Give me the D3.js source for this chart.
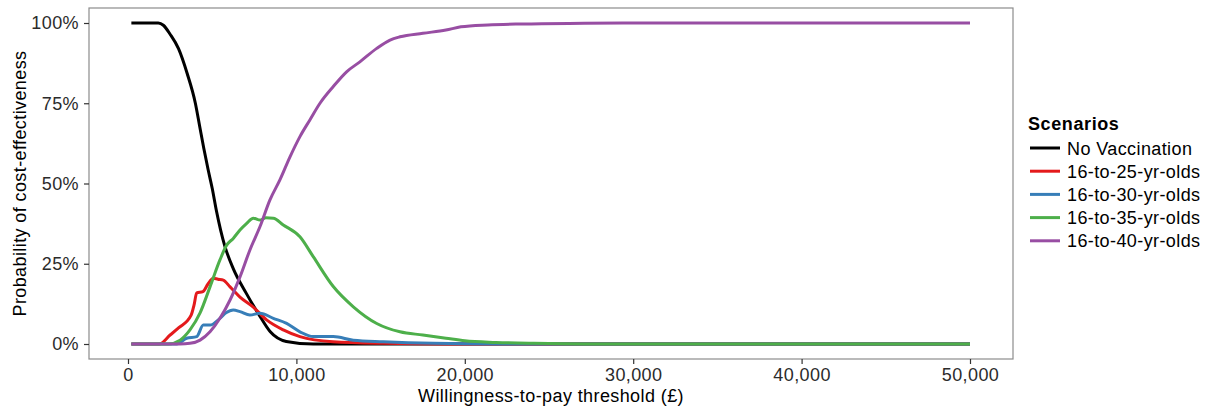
<!DOCTYPE html>
<html>
<head>
<meta charset="utf-8">
<script src="https://cdn.jsdelivr.net/npm/d3@7/dist/d3.min.js"></script>
<style>
  html, body { margin: 0; padding: 0; background: #fff; }
  svg { display: block; }
  text { font-family: "Liberation Sans", Arial, Helvetica, sans-serif; }
</style>
</head>
<body>
<svg id="chart" width="1215" height="411"></svg>
<script>
// Cost-effectiveness acceptability curves: [willingness-to-pay (£), probability (%)]
const noVaccination = [
  [200, 100], [1800, 100], [2100, 99.3], [2500, 96.5], [3000, 92.0], [3500, 84.5],
  [4000, 75.0], [4250, 68.0], [4500, 61.0], [4750, 54.5], [5000, 48.5], [5250, 41.5],
  [5500, 35.5], [5750, 30.5], [6250, 23.5], [7000, 16.0], [7850, 8.5], [8450, 3.8],
  [9400, 0.8], [11000, 0], [50000, 0]
];
const age16to25 = [
  [200, 0], [1850, 0], [2500, 2.8], [3000, 5.0], [3750, 9.0], [3920, 12.1], [4080, 15.9],
  [4450, 16.3], [4750, 18.7], [5060, 20.5], [5340, 20.2], [5660, 19.9], [6060, 17.8],
  [6650, 14.6], [7440, 11.5], [8230, 7.5], [9220, 4.4], [10210, 2.3], [12170, 0.7],
  [15140, 0.2], [19100, 0], [50000, 0]
];
const age16to30 = [
  [200, 0], [2890, 0], [3480, 1.8], [4080, 2.3], [4470, 5.9], [4870, 5.9], [5460, 8.0],
  [5820, 9.7], [6250, 10.6], [6650, 10.1], [7240, 9.0], [7840, 9.6], [8630, 8.0],
  [9420, 6.4], [10210, 3.8], [11000, 2.3], [12190, 2.3], [13380, 1.2], [15160, 0.7],
  [18130, 0.2], [22100, 0], [50000, 0]
];
const age16to35 = [
  [200, 0], [2380, 0], [3090, 1.2], [3680, 4.4], [4280, 9.7], [4870, 17.8], [5460, 26.2],
  [5860, 30.8], [6250, 32.9], [6650, 35.5], [7050, 37.6], [7440, 39.2], [7840, 38.6],
  [8190, 39.3], [8630, 39.2], [9220, 37.1], [10210, 33.4], [11000, 27.2], [12190, 17.9],
  [13380, 11.6], [14770, 6.4], [16150, 3.8], [17510, 2.8], [18880, 1.8], [20000, 1.0],
  [21850, 0.5], [24100, 0.2], [27100, 0], [50000, 0]
];
const age16to40 = [
  [200, 0], [3100, 0], [3680, 0.2], [4280, 1.2], [4870, 3.8], [5460, 8.0], [6060, 13.7],
  [6650, 20.9], [7240, 29.3], [7840, 36.6], [8430, 44.9], [9020, 51.1], [9620, 58.3],
  [10210, 64.6], [10800, 69.8], [11400, 75.0], [12190, 80.2], [12980, 84.8], [13770, 87.9],
  [14770, 92.1], [15560, 94.7], [16150, 95.7], [17510, 96.8], [18880, 97.8], [19770, 98.8],
  [21370, 99.4], [23420, 99.7], [27100, 99.9], [30000, 100], [50000, 100]
];

const scenarioNames = ["No Vaccination", "16-to-25-yr-olds", "16-to-30-yr-olds", "16-to-35-yr-olds", "16-to-40-yr-olds"];
const scenarioData = [noVaccination, age16to25, age16to30, age16to35, age16to40];
const scenarioColors = ["#000000", "#E41A1C", "#377EB8", "#4DAF4A", "#984EA3"];

const xTicks = [0, 10000, 20000, 30000, 40000, 50000];
const yTicks = [0, 25, 50, 75, 100];

const svg = d3.select("#chart");
const panel = { left: 89, right: 1013, top: 8, bottom: 359 };

const x = d3.scaleLinear().domain([0, 50000]).range([128, 970]);
const y = d3.scaleLinear().domain([0, 100]).range([344, 23]);

const fontSize = "18px";
const spacing = "0.4px";

// Curves
const line = d3.line()
  .x(d => x(d[0]))
  .y(d => y(d[1]))
  .curve(d3.curveMonotoneX);

svg.append("g")
  .selectAll("path")
  .data(scenarioData)
  .join("path")
  .attr("d", line)
  .attr("fill", "none")
  .attr("stroke", (d, i) => scenarioColors[i])
  .attr("stroke-width", 3)
  .attr("stroke-linejoin", "round");

// Panel border
svg.append("rect")
  .attr("x", panel.left)
  .attr("y", panel.top)
  .attr("width", panel.right - panel.left)
  .attr("height", panel.bottom - panel.top)
  .attr("fill", "none")
  .attr("stroke", "#8c8c8c")
  .attr("stroke-width", 1.2);

// X axis
const xAxis = svg.append("g")
  .attr("transform", `translate(0,${panel.bottom})`)
  .call(d3.axisBottom(x).tickValues(xTicks).tickFormat(d3.format(",")).tickSize(5).tickPadding(4));
xAxis.select(".domain").remove();
xAxis.selectAll(".tick line").attr("stroke", "#333").attr("stroke-width", 1.2);
xAxis.selectAll(".tick text")
  .attr("fill", "#2b2b2b")
  .style("font-size", fontSize)
  .style("letter-spacing", spacing)
  .attr("font-family", null);

// Y axis
const yAxis = svg.append("g")
  .attr("transform", `translate(${panel.left},0)`)
  .call(d3.axisLeft(y).tickValues(yTicks).tickFormat(d => d + "%").tickSize(5).tickPadding(5));
yAxis.select(".domain").remove();
yAxis.selectAll(".tick line").attr("stroke", "#333").attr("stroke-width", 1.2);
yAxis.selectAll(".tick text")
  .attr("fill", "#2b2b2b")
  .style("font-size", fontSize)
  .style("letter-spacing", spacing)
  .attr("font-family", null);

// Axis titles
svg.append("text")
  .attr("x", (panel.left + panel.right) / 2)
  .attr("y", 402)
  .attr("text-anchor", "middle")
  .style("font-size", fontSize)
  .style("letter-spacing", spacing)
  .attr("fill", "#000")
  .text("Willingness-to-pay threshold (£)");

svg.append("text")
  .attr("transform", `translate(26,${(panel.top + panel.bottom) / 2}) rotate(-90)`)
  .attr("text-anchor", "middle")
  .style("font-size", fontSize)
  .style("letter-spacing", spacing)
  .attr("fill", "#000")
  .text("Probability of cost-effectiveness");

// Legend
const legend = svg.append("g").attr("transform", "translate(1028,0)");
legend.append("text")
  .attr("x", 0)
  .attr("y", 130)
  .style("font-size", "18px")
  .style("font-weight", "bold")
  .style("letter-spacing", "0.6px")
  .text("Scenarios");

const items = legend.selectAll("g.item")
  .data(scenarioNames)
  .join("g")
  .attr("class", "item")
  .attr("transform", (d, i) => `translate(0,${148 + i * 23.2})`);
items.append("line")
  .attr("x1", 2).attr("x2", 32)
  .attr("y1", 0).attr("y2", 0)
  .attr("stroke", (d, i) => scenarioColors[i])
  .attr("stroke-width", 3);
items.append("text")
  .attr("x", 39)
  .attr("y", 6.5)
  .style("font-size", fontSize)
  .style("letter-spacing", spacing)
  .text(d => d);
</script>
</body>
</html>
